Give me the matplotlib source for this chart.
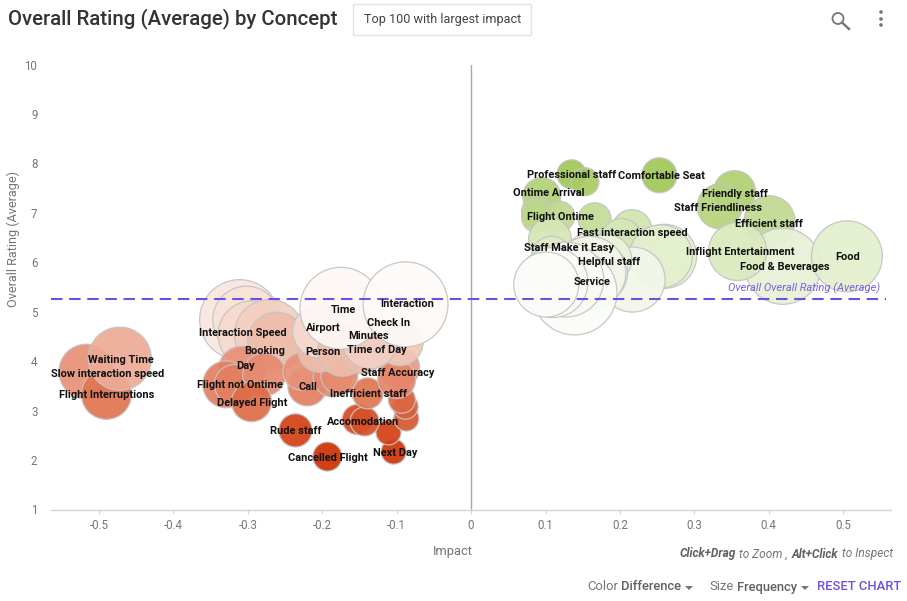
import matplotlib
matplotlib.use("Agg")
import matplotlib.pyplot as plt
from matplotlib.colors import LinearSegmentedColormap, Normalize
from matplotlib.patches import Rectangle, Circle
from matplotlib.lines import Line2D

plt.rcParams['font.family'] = ['Roboto', 'DejaVu Sans']

impact = [-.311,-.302,-.295,-.271,-.261,-.308,-.329,-.318,-.278,-.295,-.236,-.193,-.104,-.111,-.087,-.088,-.093,-.153,-.143,-.139,
          -.220,-.228,-.186,-.177,-.096,-.100,-.204,-.204,-.173,-.146,-.096,-.136,-.175,-.088,-.517,-.490,-.472,
          .135,.153,.253,.095,.088,.088,.119,.166,.216,.202,.260,.255,.217,.354,.334,.401,.419,.358,.505,
          .106,.108,.159,.182,.170,.159,.139,.128,.110,.101]
rating = [4.84,4.84,4.54,4.54,4.40,3.83,3.53,3.53,3.73,3.18,2.60,2.07,2.17,2.56,2.84,3.08,3.22,2.82,2.78,3.35,
          3.49,3.79,3.67,3.71,3.87,3.63,4.20,4.60,4.20,4.18,4.38,4.40,5.07,5.15,3.79,3.33,4.05,
          7.78,7.63,7.76,7.33,7.03,6.91,6.93,6.87,6.66,6.46,6.12,6.12,5.65,7.43,7.13,6.83,5.92,6.22,6.12,
          6.46,6.12,6.12,6.06,5.79,5.79,5.39,5.65,5.59,5.55]
frequency = [6400,4500,4500,4900,3400,2200,2200,1600,1850,1600,1100,840,625,625,625,625,730,900,840,960,
             1520,1370,1520,1370,1600,1440,1760,2800,2500,1850,2200,3000,6700,7200,3000,2500,4000,
             840,780,1225,1440,900,900,900,1090,1600,1760,4100,3970,4225,1760,2025,2600,5800,3400,5040,
             1850,1600,2200,2500,3600,5300,7200,5600,4900,4225]
difference = [-.55,-.6,-.7,-.8,-1.0,-1.4,-1.7,-1.7,-1.5,-2.0,-2.7,-3.1,-3.0,-2.7,-2.3,-2.2,-2.1,-2.5,-2.4,-1.9,
              -1.7,-1.4,-1.5,-1.5,-1.3,-1.6,-1.0,-.7,-1.0,-1.0,-.9,-.8,-.15,-.1,-1.4,-1.9,-1.15,
              2.4,2.2,2.4,1.9,1.6,1.6,1.5,1.4,1.1,1.0,.7,.7,.3,2.0,1.8,1.5,.6,.9,.7,
              1.0,.8,.6,.5,.35,.3,.1,.15,.1,.05]

label_names = ["Waiting Time","Slow interaction speed","Flight Interruptions","Interaction Speed","Booking","Day",
               "Flight not Ontime","Delayed Flight","Rude staff","Cancelled Flight","Next Day","Accomodation",
               "Inefficient staff","Staff Accuracy","Call","Person","Airport","Time","Interaction","Check In",
               "Minutes","Time of Day","Professional staff","Comfortable Seat","Ontime Arrival","Flight Ontime",
               "Fast interaction speed","Staff Make it Easy","Helpful staff","Service","Friendly staff",
               "Staff Friendliness","Efficient staff","Inflight Entertainment","Food & Beverages","Food"]
label_x = [-.472,-.489,-.490,-.308,-.278,-.304,-.312,-.295,-.236,-.193,-.103,-.146,-.139,-.100,-.220,-.200,-.200,-.173,
           -.087,-.112,-.139,-.128,.134,.255,.103,.119,.216,.130,.185,.162,.354,.331,.399,.361,.420,.505]
label_y = [4.05,3.77,3.33,4.58,4.22,3.93,3.53,3.18,2.60,2.07,2.17,2.78,3.35,3.79,3.49,4.20,4.70,5.05,5.17,4.80,4.52,4.24,
           7.78,7.76,7.43,6.93,6.62,6.30,6.02,5.63,7.41,7.11,6.80,6.22,5.92,6.12]
x_ticks = [-.5,-.4,-.3,-.2,-.1,0,.1,.2,.3,.4,.5]
x_tick_labels = ["-0.5","-0.4","-0.3","-0.2","-0.1","0","0.1","0.2","0.3","0.4","0.5"]
y_ticks = [1,2,3,4,5,6,7,8,9,10]
overall_rating = 5.25

color_stops = [-3.2,-2.5,-1.9,-1.4,-1.0,-.6,-.1,.05,.7,1.5,2.4]
color_values = ["#cc2e00","#d64a20","#e07552","#e89078","#efbcab","#f8e4dc","#fdfaf8","#fcfdfa","#e4efcf","#c0da90","#a2c858"]

W, H = 907, 601
fig = plt.figure(figsize=(W/100, H/100), dpi=100, facecolor="white")
ax = fig.add_axes([51.3/W, 1-509.5/H, (890.5-51.3)/W, (509.5-64.5)/H])
ax.set_xlim(-.564, .5635)
ax.set_ylim(1, 10)
for s in ("top", "right", "left"):
    ax.spines[s].set_visible(False)
ax.spines["bottom"].set_color("#d4d4dc")
ax.spines["bottom"].set_linewidth(1)
ax.set_xticks(x_ticks, x_tick_labels)
ax.set_yticks(y_ticks)
ax.tick_params(axis="x", length=3, color="#d4d4dc", labelsize=8.3, labelcolor="#757575", pad=4)
ax.tick_params(axis="y", length=0, labelsize=8.3, labelcolor="#757575", pad=10)
ax.axvline(0, color="#a8a8a8", lw=1, zorder=1)

vmin, vmax = color_stops[0], color_stops[-1]
cmap = LinearSegmentedColormap.from_list(
    "diff", [((d-vmin)/(vmax-vmin), c) for d, c in zip(color_stops, color_values)])
norm = Normalize(vmin, vmax)
ax.scatter(impact, rating, s=[f*0.72**2 for f in frequency], c=difference, cmap=cmap, norm=norm,
           alpha=0.93, edgecolors="#c4c4c4", linewidths=0.9, zorder=2)

ax.plot([-.564, .558], [overall_rating]*2, color="#6f4fe0", lw=1.5, dashes=(5.5, 3.2), zorder=3)
ax.text(.550, overall_rating+.10, "Overall Overall Rating (Average)", color="#7a5fe0", style="italic",
        fontsize=8.0, ha="right", va="bottom", zorder=4)

for n, x, y in zip(label_names, label_x, label_y):
    ax.annotate(n, (x, y), xytext=(0.7, -1), textcoords="offset pixels", fontsize=7.9, fontweight="bold",
                color="#111111", ha="center", va="center", zorder=5)

def t(px, py, s, **kw):
    kw.setdefault("va", "center")
    return fig.text(px/W, 1-py/H, s, **kw)

t(8, 19, "Overall Rating (Average) by Concept", fontsize=14.7, fontweight="medium", color="#333333")
fig.add_artist(Rectangle((353/W, 1-35/H), 178/W, 31.5/H, transform=fig.transFigure, fc="white", ec="#e2e2e2", lw=1))
t(442.5, 19.5, "Top 100 with largest impact", fontsize=9.1, color="#424242", ha="center")
t(13, 239, "Overall Rating (Average)", fontsize=9.1, color="#757575", rotation=90, ha="center")
t(452.5, 552, "Impact", fontsize=9.3, color="#757575", ha="center")

t(680, 554, "Click+Drag", fontsize=8.6, style="italic", fontweight="bold", color="#616161")
t(739, 554, "to Zoom ,", fontsize=8.6, style="italic", color="#757575")
t(791.5, 554, "Alt+Click", fontsize=8.6, style="italic", fontweight="bold", color="#616161")
t(842, 554, "to Inspect", fontsize=8.6, style="italic", color="#757575")

t(587, 587, "Color", fontsize=9.4, color="#757575")
t(621, 587, "Difference", fontsize=9.4, fontweight="medium", color="#616161")
t(709, 587, "Size", fontsize=9.4, color="#757575")
t(737, 587, "Frequency", fontsize=9.4, fontweight="medium", color="#616161")
t(817, 587, "RESET CHART", fontsize=9.4, fontweight="medium", color="#6f4fe0")
for cx in (689, 805):
    fig.add_artist(plt.Polygon([((cx-4)/W, 1-586/H), ((cx+4)/W, 1-586/H), (cx/W, 1-590/H)],
                               transform=fig.transFigure, fc="#757575", ec="none"))

# toolbar icons
iax = fig.add_axes([0, 0, 1, 1], facecolor="none")
iax.set_xlim(0, W); iax.set_ylim(H, 0); iax.axis("off")
iax.add_patch(Circle((838, 18.5), 5.5, fc="none", ec="#757575", lw=1.3))
iax.add_line(Line2D([842.3, 849], [22.8, 29], color="#757575", lw=1.7))
for cy in (12, 19, 25):
    iax.add_patch(Circle((881, cy), 1.8, fc="#757575", ec="none"))

fig.savefig("out.png", dpi=100)
